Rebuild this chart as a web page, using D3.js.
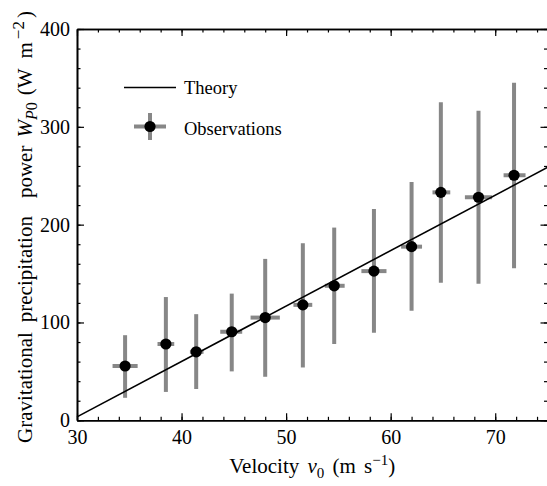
<!DOCTYPE html>
<html>
<head>
<meta charset="utf-8">
<script src="https://cdn.jsdelivr.net/npm/d3@7"></script>
</head>
<body style="margin:0;padding:0;background:#fff">
<svg id="chart" width="547" height="486" style="display:block"></svg>
<script>
// ---- data ----
const velocity  = [34.6, 38.5, 41.4, 44.8, 48.0, 51.6, 54.6, 58.4, 62.0, 64.8, 68.4, 71.8];
const power     = [55.5, 78.0, 70.0, 90.5, 105.0, 118.0, 137.5, 152.5, 177.5, 233.0, 228.0, 250.5];
const powerLow  = [23.0, 29.0, 32.0, 50.0, 44.5, 54.0, 78.0, 89.5, 112.0, 140.5, 139.5, 155.5];
const powerHigh = [87.0, 126.0, 108.5, 129.5, 165.0, 181.0, 197.0, 216.0, 243.5, 325.0, 316.5, 345.0];
const velLow    = [33.4, 37.7, 40.8, 43.7, 46.6, 50.7, 53.7, 57.2, 61.0, 64.0, 67.1, 70.8];
const velHigh   = [35.8, 39.3, 42.1, 45.8, 49.4, 52.5, 55.6, 59.6, 63.0, 65.7, 69.7, 72.9];
const theoryV   = [30, 75];
const theoryW   = [3.5, 258.5];
const xTicks    = [30, 40, 50, 60, 70];
const yTicks    = [0, 100, 200, 300, 400];

const FONT = '"Liberation Serif"';
const svg = d3.select("#chart");
const pL = 77, pR = 547.5, pT = 29, pB = 420.3;
const x = d3.scaleLinear().domain([30, 75]).range([pL, pR]);
const y = d3.scaleLinear().domain([0, 400]).range([pB, pT]);

const grey = "#878787";
const g = svg.append("g");

// error bars
const obs = velocity.map((v, i) => ({v, w: power[i], wl: powerLow[i], wh: powerHigh[i], vl: velLow[i], vh: velHigh[i]}));
g.selectAll(".vbar").data(obs).enter().append("line")
  .attr("x1", d => x(d.v)).attr("x2", d => x(d.v))
  .attr("y1", d => y(d.wl)).attr("y2", d => y(d.wh))
  .attr("stroke", grey).attr("stroke-width", 4);
g.selectAll(".hbar").data(obs).enter().append("line")
  .attr("x1", d => x(d.vl)).attr("x2", d => x(d.vh))
  .attr("y1", d => y(d.w)).attr("y2", d => y(d.w))
  .attr("stroke", grey).attr("stroke-width", 4);

// theory line
g.append("path")
  .datum(theoryV.map((v, i) => [v, theoryW[i]]))
  .attr("fill", "none").attr("stroke", "#000").attr("stroke-width", 1.6)
  .attr("d", d3.line().x(d => x(d[0])).y(d => y(d[1])));

// markers
g.selectAll(".pt").data(obs).enter().append("circle")
  .attr("cx", d => x(d.v)).attr("cy", d => y(d.w)).attr("r", 5.6).attr("fill", "#000");

// axes
function styleAxis(sel) {
  sel.attr("font-family", null).attr("font-size", null);
  sel.selectAll("path").attr("stroke", "#000").attr("stroke-width", 1.6);
  sel.selectAll("line").attr("stroke", "#000").attr("stroke-width", 1.2);
  sel.selectAll("text").attr("fill", "#000").style("font-size", "20px").style("font-family", FONT);
}
const xMinor = d3.range(30, 76, 2);
const yMinor = d3.range(0, 401, 20);

// bottom
const ab = svg.append("g").attr("transform", `translate(0,${pB})`)
  .call(d3.axisBottom(x).tickValues(xTicks).tickSizeInner(-7).tickSizeOuter(0).tickPadding(10).tickFormat(d3.format("d")));
styleAxis(ab);
const abm = svg.append("g").attr("transform", `translate(0,${pB})`)
  .call(d3.axisBottom(x).tickValues(xMinor).tickSizeInner(-3.5).tickSizeOuter(0).tickFormat(""));
styleAxis(abm);
// top
const at = svg.append("g").attr("transform", `translate(0,${pT})`)
  .call(d3.axisTop(x).tickValues(xTicks).tickSizeInner(-7).tickSizeOuter(0).tickFormat(""));
styleAxis(at);
const atm = svg.append("g").attr("transform", `translate(0,${pT})`)
  .call(d3.axisTop(x).tickValues(xMinor).tickSizeInner(-3.5).tickSizeOuter(0).tickFormat(""));
styleAxis(atm);
// left
const al = svg.append("g").attr("transform", `translate(${pL},0)`)
  .call(d3.axisLeft(y).tickValues(yTicks).tickSizeInner(-7).tickSizeOuter(0).tickPadding(7).tickFormat(d3.format("d")));
styleAxis(al);
const alm = svg.append("g").attr("transform", `translate(${pL},0)`)
  .call(d3.axisLeft(y).tickValues(yMinor).tickSizeInner(-3.5).tickSizeOuter(0).tickFormat(""));
styleAxis(alm);
// right
const ar = svg.append("g").attr("transform", `translate(${pR},0)`)
  .call(d3.axisRight(y).tickValues(yTicks).tickSizeInner(-7).tickSizeOuter(0).tickFormat(""));
styleAxis(ar);
const arm = svg.append("g").attr("transform", `translate(${pR},0)`)
  .call(d3.axisRight(y).tickValues(yMinor).tickSizeInner(-3.5).tickSizeOuter(0).tickFormat(""));
styleAxis(arm);

// x-axis title
const xt = svg.append("text").attr("x", (pL + pR) / 2).attr("y", 473)
  .attr("text-anchor", "middle").style("font-family", FONT).style("font-size", "21px")
  .style("word-spacing", "3px").attr("fill", "#000");
xt.append("tspan").text("Velocity ");
xt.append("tspan").style("font-style", "italic").text("v");
xt.append("tspan").attr("dy", 5).style("font-size", "15px").text("0");
xt.append("tspan").attr("dy", -5).text(" (m s");
xt.append("tspan").attr("dy", -8).style("font-size", "15px").text("\u22121");
xt.append("tspan").attr("dy", 8).text(")");

// y-axis title (starts at the bottom, reads upward)
const yt = svg.append("text")
  .attr("transform", "translate(32,443) rotate(-90)")
  .attr("text-anchor", "start").style("font-family", FONT).style("font-size", "21px").attr("fill", "#000");
yt.append("tspan").text("Gravitational");
yt.append("tspan").attr("dx", 10).text("precipitation");
yt.append("tspan").attr("dx", 18).text("power");
yt.append("tspan").attr("dx", 8).style("font-style", "italic").text("W");
yt.append("tspan").attr("dy", 5).style("font-size", "16px").style("font-style", "italic").text("P");
yt.append("tspan").style("font-size", "16px").text("0");
yt.append("tspan").attr("dy", -5).attr("dx", 7).text("(W");
yt.append("tspan").attr("dx", 10).text("m");
yt.append("tspan").attr("dy", -8).attr("dx", 3).style("font-size", "17px").text("\u22122");
yt.append("tspan").attr("dy", 8).attr("dx", 3).text(")");

// legend
const lg = svg.append("g");
lg.append("line").attr("x1", 124).attr("x2", 176).attr("y1", 87.5).attr("y2", 87.5)
  .attr("stroke", "#000").attr("stroke-width", 1.6);
lg.append("text").attr("x", 184).attr("y", 93.5).style("font-family", FONT).style("font-size", "18.5px").attr("fill", "#000").text("Theory");
lg.append("line").attr("x1", 150).attr("x2", 150).attr("y1", 113).attr("y2", 140)
  .attr("stroke", grey).attr("stroke-width", 4);
lg.append("line").attr("x1", 134).attr("x2", 166).attr("y1", 126.5).attr("y2", 126.5)
  .attr("stroke", grey).attr("stroke-width", 4);
lg.append("circle").attr("cx", 150).attr("cy", 126.5).attr("r", 5.6).attr("fill", "#000");
lg.append("text").attr("x", 184).attr("y", 135).style("font-family", FONT).style("font-size", "18.5px").attr("fill", "#000").text("Observations");
</script>
</body>
</html>
